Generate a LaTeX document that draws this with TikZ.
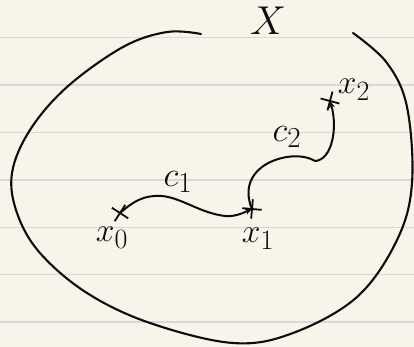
\documentclass[tikz,border=0pt]{standalone}
\usepackage{amsmath, amssymb}
\usepackage{xcolor}
\usepackage{tikz}
\usetikzlibrary{arrows.meta, shapes.misc}
\definecolor{paper}{RGB}{247, 245, 233}
\definecolor{rule}{RGB}{216, 216, 214}
\definecolor{ink}{RGB}{12, 12, 12}
\tikzset{
  stroke/.style={draw=ink, line width=2.1pt, line cap=round, line join=round},
  pathline/.style={stroke, line width=2pt},
  ruleline/.style={draw=rule, line width=1.3pt},
  pt/.style={cross out, draw=ink, line width=1.8pt, minimum size=12pt, inner sep=0pt},
  lbl/.style={font=\Huge, text=ink, inner sep=0pt, transform shape, scale=1.35},
  clbl/.style={font=\Huge, text=ink, inner sep=0pt, transform shape, scale=1.4},
}

\begin{document}
\begin{tikzpicture}[x=1pt, y=-1pt, >={Stealth[length=7pt, width=6pt]}]

\useasboundingbox (0,0) rectangle (414,347);
\fill[paper] (0,0) rectangle (414,347);
\foreach \y in {37.5, 85, 132.3, 180, 227.3, 274.5, 322}
  \draw[ruleline] (0,\y) -- (414,\y);

% the set
\draw[stroke] plot[smooth, tension=0.6] coordinates {
  (201,34) (167,32) (123,47) (67,87) (30,130) (12,173) (17,213)
  (40,253) (87,293) (150,323) (233,343) (293,333) (357,297)
  (397,240) (412,183) (407,107) (387,63) (353,33)};
\node[lbl, scale=1.2] (setname) at (268,21) {$X$};

% points
\node[pt, rotate=12] (x0) at (120,213) {};
\node[pt, rotate=40] (x1) at (252,209) {};
\node[pt, rotate=30] (x2) at (330,101) {};
\node[lbl] (lx0) at (112,238) {$x_0$};
\node[lbl] (lx1) at (258,239) {$x_1$};
\node[lbl] (lx2) at (354,90) {$x_2$};

% paths
\draw[pathline, ->] (x0.center) .. controls (135,200) and (145,195) .. (162,196)
  .. controls (182,198) and (200,213) .. (225,216)
  .. controls (236,217) and (245,212) .. (x1.center);
\draw[pathline, ->] (x1.center) .. controls (247,198) and (245,180) .. (262,167)
  .. controls (275,157) and (300,152) .. (315,161)
  .. controls (332,160) and (338,128) .. (x2.center);
\node[clbl] (c1) at (178,182) {$c_1$};
\node[clbl] (c2) at (287,137) {$c_2$};

\end{tikzpicture}
\end{document}
